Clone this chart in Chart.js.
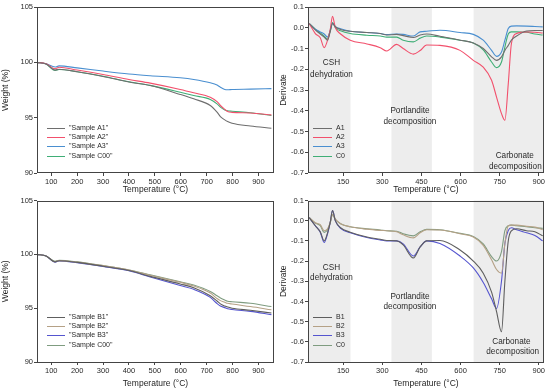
<!DOCTYPE html>
<html>
<head>
<meta charset="utf-8">
<script src="https://cdn.jsdelivr.net/npm/chart.js@4.4.0/dist/chart.umd.min.js"></script>
<style>
  body { margin: 0; background: #fff; width: 550px; height: 391px; position: relative; overflow: hidden; }
  canvas { position: absolute; }
</style>
</head>
<body>
<canvas id="tgaA" width="275" height="195" style="left:0;top:0"></canvas>
<canvas id="dtgA" width="275" height="195" style="left:275px;top:0"></canvas>
<canvas id="tgaB" width="275" height="196" style="left:0;top:195px"></canvas>
<canvas id="dtgB" width="275" height="196" style="left:275px;top:195px"></canvas>
<script>
// DATA
const tgaTemps = [45, 80, 115, 130, 200, 300, 400, 482, 598, 650, 714, 740, 753, 770, 781, 798, 869, 950];
const tgaA1 = [100, 99.85, 99.3, 99.38, 99.15, 98.72, 98.22, 97.9, 97.1, 96.7, 96.1, 95.5, 95.1, 94.8, 94.65, 94.5, 94.25, 94.05];
const tgaA2 = [100, 99.88, 99.42, 99.55, 99.3, 98.9, 98.45, 98.12, 97.55, 97.25, 96.85, 96.45, 96.1, 95.75, 95.55, 95.48, 95.42, 95.25];
const tgaA3 = [100, 99.88, 99.58, 99.68, 99.5, 99.21, 98.95, 98.79, 98.6, 98.45, 98.15, 97.95, 97.75, 97.55, 97.52, 97.55, 97.58, 97.62];
const tgaC00a = [100, 99.85, 99.27, 99.35, 99.15, 98.75, 98.25, 97.92, 97.3, 97.0, 96.65, 96.25, 95.95, 95.7, 95.62, 95.58, 95.45, 95.2];
const tgaB1 = [100, 99.85, 99.3, 99.4, 99.25, 98.9, 98.5, 97.95, 97.25, 96.9, 96.15, 95.67, 95.4, 95.2, 95.1, 95.0, 94.8, 94.55];
const tgaB2 = [100, 99.85, 99.32, 99.42, 99.28, 98.95, 98.55, 98.05, 97.4, 97.05, 96.4, 95.9, 95.7, 95.55, 95.45, 95.38, 95.15, 94.85];
const tgaB3 = [100, 99.85, 99.28, 99.38, 99.22, 98.88, 98.48, 97.9, 97.1, 96.75, 96.0, 95.43, 95.2, 95.05, 94.95, 94.88, 94.7, 94.4];
const tgaC00b = [100, 99.85, 99.35, 99.45, 99.3, 98.95, 98.55, 98.1, 97.45, 97.15, 96.55, 96.15, 95.95, 95.75, 95.65, 95.6, 95.45, 95.15];

const dtgTemps = [20, 43, 62, 77, 90, 100, 109, 120, 140, 177, 241, 292, 317, 355, 380, 419, 445, 470, 521, 598, 649, 687, 719, 738, 757, 770, 783, 795, 815, 853, 885, 915];
const dtgA1 = [0.02, -0.01, -0.03, -0.045, -0.06, -0.02, 0.02, 0.005, -0.008, -0.017, -0.023, -0.028, -0.035, -0.032, -0.038, -0.047, -0.035, -0.03, -0.041, -0.06, -0.073, -0.1, -0.14, -0.157, -0.14, -0.109, -0.085, -0.06, -0.04, -0.016, -0.013, -0.013];
const dtgA2 = [0.02, -0.028, -0.048, -0.096, -0.06, -0.01, 0.055, 0.0, -0.03, -0.06, -0.078, -0.096, -0.112, -0.08, -0.1, -0.127, -0.11, -0.083, -0.085, -0.109, -0.157, -0.19, -0.253, -0.334, -0.414, -0.446, -0.27, -0.077, -0.028, -0.02, -0.022, -0.025];
const dtgA3 = [0.02, -0.007, -0.02, -0.03, -0.045, -0.015, 0.022, 0.005, -0.005, -0.017, -0.023, -0.028, -0.033, -0.03, -0.032, -0.04, -0.02, -0.017, -0.012, -0.023, -0.032, -0.06, -0.109, -0.138, -0.117, -0.06, -0.004, 0.008, 0.009, 0.008, 0.006, 0.004];
const dtgC0a = [0.02, -0.007, -0.025, -0.04, -0.055, -0.015, 0.025, 0.0, -0.015, -0.028, -0.036, -0.04, -0.045, -0.045, -0.06, -0.068, -0.05, -0.04, -0.045, -0.06, -0.073, -0.107, -0.165, -0.192, -0.165, -0.093, -0.03, -0.02, -0.02, -0.022, -0.03, -0.035];
const dtgB1 = [0.015, -0.025, -0.055, -0.1, -0.06, -0.01, 0.05, -0.001, -0.035, -0.057, -0.081, -0.092, -0.098, -0.1, -0.12, -0.185, -0.13, -0.1, -0.098, -0.145, -0.2, -0.26, -0.354, -0.45, -0.55, -0.3, -0.1, -0.05, -0.04, -0.05, -0.055, -0.075];
const dtgB2 = [0.015, -0.01, -0.02, -0.05, -0.04, -0.01, 0.03, 0.008, -0.015, -0.03, -0.042, -0.048, -0.05, -0.055, -0.07, -0.085, -0.06, -0.045, -0.046, -0.065, -0.081, -0.122, -0.194, -0.242, -0.26, -0.113, -0.025, -0.022, -0.022, -0.028, -0.032, -0.045];
const dtgB3 = [0.015, -0.025, -0.057, -0.108, -0.065, -0.01, 0.05, -0.001, -0.038, -0.06, -0.083, -0.095, -0.1, -0.1, -0.115, -0.175, -0.13, -0.1, -0.113, -0.175, -0.234, -0.306, -0.387, -0.435, -0.3, -0.113, -0.049, -0.035, -0.045, -0.06, -0.073, -0.1];
const dtgC0b = [0.015, -0.012, -0.025, -0.058, -0.045, -0.012, 0.03, 0.006, -0.015, -0.03, -0.04, -0.046, -0.05, -0.052, -0.065, -0.075, -0.055, -0.043, -0.045, -0.063, -0.078, -0.115, -0.178, -0.2, -0.153, -0.049, -0.025, -0.022, -0.025, -0.03, -0.035, -0.038];

const tgaXTicks = [100, 200, 300, 400, 500, 600, 700, 800, 900];
const tgaYTicks = [90, 95, 100, 105];
const dtgXTicks = [150, 300, 450, 600, 750, 900];
const dtgYTicks = [0.1, 0, -0.1, -0.2, -0.3, -0.4, -0.5, -0.6, -0.7];

const bandRanges = [[0, 178], [335, 490], [650, 1000]];
const notesTop = [['CSH', 105, -0.17], ['dehydration', 105, -0.225], ['Portlandite', 406, -0.398], ['decomposition', 406, -0.451], ['Carbonate', 808, -0.615], ['decomposition', 810, -0.668]];
const notesBottom = [['CSH', 105, -0.231], ['dehydration', 105, -0.283], ['Portlandite', 406, -0.375], ['decomposition', 406, -0.427], ['Carbonate', 795, -0.6], ['decomposition', 800, -0.648]];

const FONT = '"Liberation Sans", Arial, sans-serif';
const INK = '#2a2a2a';

// PLUGINS
const bands = {
  id: 'bands',
  beforeDatasetsDraw(chart, args, opts) {
    if (!opts.ranges) return;
    const { ctx, chartArea: a, scales: { x } } = chart;
    ctx.save();
    ctx.fillStyle = '#ededed';
    opts.ranges.forEach(([from, to]) => {
      const x0 = Math.max(a.left, x.getPixelForValue(from));
      const x1 = Math.min(a.right, x.getPixelForValue(to));
      ctx.fillRect(x0, a.top, x1 - x0, a.bottom - a.top);
    });
    ctx.restore();
  }
};

const notes = {
  id: 'notes',
  afterDatasetsDraw(chart, args, opts) {
    if (!opts.items) return;
    const { ctx, scales: { x, y } } = chart;
    ctx.save();
    ctx.font = '8.2px ' + FONT;
    ctx.fillStyle = INK;
    ctx.textAlign = 'center';
    ctx.textBaseline = 'middle';
    opts.items.forEach(([t, vx, vy]) => ctx.fillText(t, x.getPixelForValue(vx), y.getPixelForValue(vy)));
    ctx.restore();
  }
};

const frame = {
  id: 'frame',
  afterDraw(chart) {
    const { ctx, chartArea: a } = chart;
    ctx.save();
    ctx.strokeStyle = '#444';
    ctx.lineWidth = 1;
    ctx.strokeRect(Math.round(a.left) + 0.5, Math.round(a.top) + 0.5, Math.round(a.right - a.left) - 1, Math.round(a.bottom - a.top) - 1);
    ctx.restore();
  }
};

const legendBox = {
  id: 'legendBox',
  afterDraw(chart, args, opts) {
    const { ctx, chartArea: a } = chart;
    ctx.save();
    ctx.font = '7px ' + FONT;
    ctx.textBaseline = 'middle';
    chart.data.datasets.forEach((ds, i) => {
      const y = Math.round(a.bottom - 45 + i * 9.2) + 0.5;
      const x0 = a.left + opts.left;
      ctx.strokeStyle = ds.borderColor;
      ctx.lineWidth = 1;
      ctx.beginPath();
      ctx.moveTo(x0, y);
      ctx.lineTo(x0 + opts.len, y);
      ctx.stroke();
      ctx.fillStyle = INK;
      ctx.fillText(ds.label, x0 + opts.len + 4, y);
    });
    ctx.restore();
  }
};

// HELPERS
const series = (label, temps, vals, color) => ({
  label: label,
  data: temps.map((t, i) => ({ x: t, y: vals[i] })),
  borderColor: color,
  borderWidth: 1.1,
  pointRadius: 0,
  cubicInterpolationMode: 'monotone',
  fill: false
});

const axisFont = { family: FONT, size: 7.5 };
const titleFont = { family: FONT, size: 8.5 };

const makeChart = (id, datasets, cfg) => {
  new Chart(document.getElementById(id), {
    type: 'line',
    data: { datasets: datasets },
    plugins: [bands, notes, frame, legendBox],
    options: {
      responsive: false,
      animation: false,
      layout: { padding: cfg.padding },
      plugins: {
        legend: { display: false },
        tooltip: { enabled: false },
        bands: { ranges: cfg.bands },
        notes: { items: cfg.notes },
        legendBox: cfg.legend
      },
      scales: {
        x: {
          type: 'linear',
          min: cfg.xMin,
          max: cfg.xMax,
          afterBuildTicks: s => { s.ticks = cfg.xTicks.map(v => ({ value: v })); },
          afterFit: s => { s.height = cfg.xHeight; },
          grid: { drawOnChartArea: false, tickLength: 3, color: '#444' },
          border: { display: false },
          ticks: { font: axisFont, color: INK, padding: 1, maxRotation: 0 },
          title: { display: true, text: 'Temperature (°C)', font: titleFont, color: '#1e1e1e', padding: { top: 0, bottom: cfg.xTitlePad } }
        },
        y: {
          min: cfg.yMin,
          max: cfg.yMax,
          afterBuildTicks: s => { s.ticks = cfg.yTicks.map(v => ({ value: v })); },
          afterFit: s => { s.width = cfg.yWidth; },
          grid: { drawOnChartArea: false, tickLength: 3, color: '#444' },
          border: { display: false },
          ticks: { font: axisFont, color: INK, padding: 1, callback: cfg.yFormat },
          title: { display: true, text: cfg.yTitle, font: titleFont, color: '#1e1e1e', padding: { top: cfg.yTitlePad, bottom: 0 } }
        }
      }
    }
  });
};

const fmtDtg = v => (Math.abs(v) < 1e-9 ? '0.0' : v.toFixed(1));

// TGA A
makeChart('tgaA', [
  series('"Sample A1"', tgaTemps, tgaA1, '#6e6e6e'),
  series('"Sample A2"', tgaTemps, tgaA2, '#f2506c'),
  series('"Sample A3"', tgaTemps, tgaA3, '#4a8fd0'),
  series('"Sample C00"', tgaTemps, tgaC00a, '#3fae76')
], {
  padding: { top: 7, right: 1, left: 0, bottom: 0 },
  xMin: 45, xMax: 960, xTicks: tgaXTicks, xHeight: 22, xTitlePad: 0,
  yMin: 90, yMax: 105, yTicks: tgaYTicks, yWidth: 37, yTitle: 'Weight (%)', yTitlePad: 1,
  legend: { left: 10, len: 18 }
});

// DTG A
makeChart('dtgA', [
  series('A1', dtgTemps, dtgA1, '#6e6e6e'),
  series('A2', dtgTemps, dtgA2, '#f2506c'),
  series('A3', dtgTemps, dtgA3, '#4a8fd0'),
  series('C0', dtgTemps, dtgC0a, '#3fae76')
], {
  padding: { top: 7, right: 6, left: 0, bottom: 0 },
  xMin: 15, xMax: 920, xTicks: dtgXTicks, xHeight: 22, xTitlePad: 0,
  yMin: -0.7, yMax: 0.1, yTicks: dtgYTicks, yWidth: 33, yTitle: 'Derivate', yTitlePad: 4, yFormat: fmtDtg,
  bands: bandRanges, notes: notesTop,
  legend: { left: 5, len: 19 }
});

// TGA B
makeChart('tgaB', [
  series('"Sample B1"', tgaTemps, tgaB1, '#5e5e5e'),
  series('"Sample B2"', tgaTemps, tgaB2, '#b5a186'),
  series('"Sample B3"', tgaTemps, tgaB3, '#5555cf'),
  series('"Sample C00"', tgaTemps, tgaC00b, '#7f9c80')
], {
  padding: { top: 1, right: 1, left: 0, bottom: 0 },
  xMin: 45, xMax: 960, xTicks: tgaXTicks, xHeight: 29, xTitlePad: 2,
  yMin: 90, yMax: 105, yTicks: tgaYTicks, yWidth: 37, yTitle: 'Weight (%)', yTitlePad: 1,
  legend: { left: 10, len: 18 }
});

// DTG B
makeChart('dtgB', [
  series('B1', dtgTemps, dtgB1, '#5e5e5e'),
  series('B2', dtgTemps, dtgB2, '#b5a186'),
  series('B3', dtgTemps, dtgB3, '#5555cf'),
  series('C0', dtgTemps, dtgC0b, '#7f9c80')
], {
  padding: { top: 1, right: 6, left: 0, bottom: 0 },
  xMin: 15, xMax: 920, xTicks: dtgXTicks, xHeight: 29, xTitlePad: 2,
  yMin: -0.7, yMax: 0.1, yTicks: dtgYTicks, yWidth: 33, yTitle: 'Derivate', yTitlePad: 4, yFormat: fmtDtg,
  bands: bandRanges, notes: notesBottom,
  legend: { left: 5, len: 19 }
});
</script>
</body>
</html>
